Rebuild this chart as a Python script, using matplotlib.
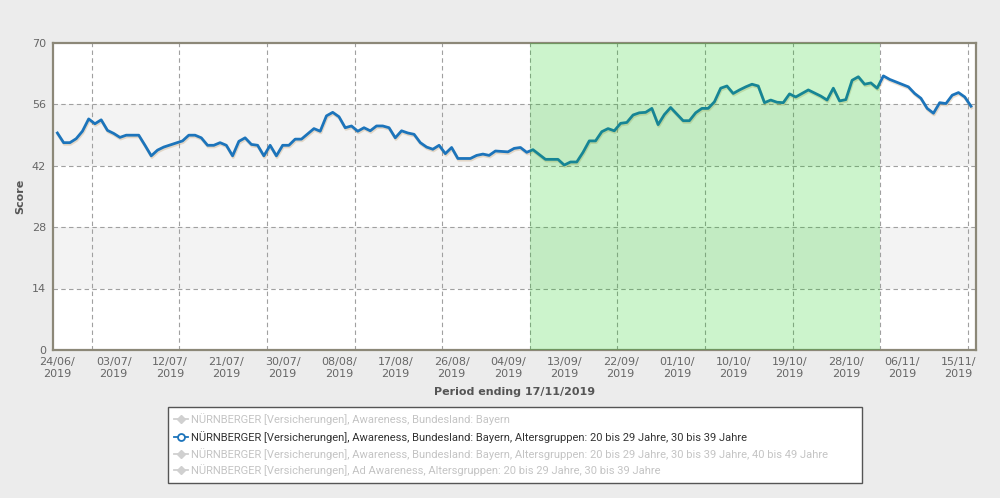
import pandas as pd
import matplotlib
matplotlib.use('Agg')
import matplotlib.pyplot as plt
import matplotlib.patheffects as pe
from matplotlib.patches import Rectangle
from matplotlib.lines import Line2D

# Score readings (day offset from 24/06/2019, value)
days = [0, 1, 2, 3, 4, 5, 6, 7, 8, 9, 10, 11, 13, 14, 15, 16, 17, 20, 21, 22,
        23, 24, 25, 26, 27, 28, 29, 30, 31, 32, 33, 34, 35, 36, 37, 38, 39, 41,
        42, 43, 44, 45, 46, 47, 48, 49, 50, 51, 52, 53, 54, 55, 56, 57, 58, 59,
        60, 61, 62, 63, 64, 66, 67, 68, 69, 70, 72, 73, 74, 75, 76, 77, 78, 80,
        81, 82, 83, 84, 85, 86, 87, 88, 89, 90, 91, 92, 93, 94, 95, 96, 97, 98,
        100, 101, 102, 103, 104, 105, 106, 107, 108, 109, 110, 111, 112, 113,
        114, 115, 116, 117, 118, 120, 122, 123, 124, 125, 126, 127, 128, 129,
        130, 131, 132, 133, 136, 137, 138, 139, 140, 141, 142, 143, 144, 145, 146]
score = [49.4, 47.2, 47.2, 48.1, 49.8, 52.6, 51.5, 52.4, 50.0, 49.3, 48.4, 48.9,
         48.9, 46.6, 44.2, 45.5, 46.2, 47.6, 48.9, 48.9, 48.3, 46.6, 46.6, 47.2,
         46.6, 44.2, 47.5, 48.3, 46.8, 46.6, 44.2, 46.6, 44.2, 46.6, 46.6, 48.0,
         48.0, 50.4, 49.8, 53.3, 54.1, 53.1, 50.6, 51.0, 49.8, 50.6, 49.9, 51.0,
         51.0, 50.6, 48.3, 49.9, 49.4, 49.1, 47.2, 46.2, 45.7, 46.6, 44.7, 46.1,
         43.6, 43.6, 44.3, 44.6, 44.3, 45.3, 45.1, 45.9, 46.1, 45.0, 45.6, 44.5,
         43.4, 43.4, 42.1, 42.8, 42.8, 45.0, 47.6, 47.6, 49.7, 50.4, 49.9, 51.6,
         51.8, 53.5, 54.0, 54.1, 55.0, 51.3, 53.6, 55.2, 52.2, 52.2, 54.0, 55.0,
         55.0, 56.5, 59.6, 60.1, 58.4, 59.2, 59.9, 60.5, 60.1, 56.3, 56.9, 56.4,
         56.3, 58.3, 57.6, 59.2, 57.8, 56.9, 59.6, 56.7, 57.0, 61.4, 62.2, 60.5,
         60.8, 59.6, 62.4, 61.6, 59.9, 58.4, 57.3, 55.0, 53.9, 56.3, 56.1, 58.0,
         58.6, 57.6, 55.5]

start = pd.Timestamp('2019-06-24')
y_ticks = [0, 14, 28, 42, 56, 70]
highlight_days = (75.5, 131.5)

legend_labels = [
    'NÜRNBERGER [Versicherungen], Awareness, Bundesland: Bayern',
    'NÜRNBERGER [Versicherungen], Awareness, Bundesland: Bayern, Altersgruppen: 20 bis 29 Jahre, 30 bis 39 Jahre',
    'NÜRNBERGER [Versicherungen], Awareness, Bundesland: Bayern, Altersgruppen: 20 bis 29 Jahre, 30 bis 39 Jahre, 40 bis 49 Jahre',
    'NÜRNBERGER [Versicherungen], Ad Awareness, Altersgruppen: 20 bis 29 Jahre, 30 bis 39 Jahre',
]
legend_active = [False, True, False, False]

dates = start + pd.to_timedelta(days, unit='D')

W, H = 1000, 498
fig = plt.figure(figsize=(W / 100, H / 100), dpi=100, facecolor='#ececec')
ax = fig.add_axes([53 / W, 1 - 350 / H, (976 - 53) / W, (350 - 42.5) / H])
ax.set_facecolor('white')

# alternating bands
ax.axhspan(42, 56, color='#f3f3f3', zorder=0, lw=0)
ax.axhspan(14, 28, color='#f3f3f3', zorder=0, lw=0)

# grid
for v in y_ticks[1:-1]:
    ax.axhline(v, color='#a0a0a0', lw=0.8, ls=(0, (4, 3)), zorder=1)
for k in range(11):
    ax.axvline(start + pd.Timedelta(days=5.5 + 14 * k), color='#a0a0a0', lw=0.8,
               ls=(0, (4, 3)), zorder=1)

ax.plot(dates, score, color='#1c74bb', lw=2.0, zorder=2, solid_joinstyle='round',
        path_effects=[pe.SimpleLineShadow(offset=(0.5, -1.2), shadow_color='#b08040', alpha=0.25),
                      pe.Normal()])

ax.axvspan(start + pd.Timedelta(days=highlight_days[0]), start + pd.Timedelta(days=highlight_days[1]),
           color=(0.0, 0.8, 0.0), alpha=0.2, lw=0, zorder=3)

ax.set_ylim(0, 70)
ax.set_xlim(start - pd.Timedelta(days=0.7), start + pd.Timedelta(days=146.8))
ax.set_yticks(y_ticks)
xt = [start + pd.Timedelta(days=9 * k) for k in range(17)]
ax.set_xticks(xt)
ax.set_xticklabels([d.strftime('%d/%m/\n%Y') for d in xt])
ax.tick_params(axis='both', length=0, labelsize=8, labelcolor='#666666')
ax.tick_params(axis='x', pad=5)
ax.tick_params(axis='y', pad=5)

for s in ax.spines.values():
    s.set_color('#8c8878')
    s.set_linewidth(1.6)

ax.set_ylabel('Score', fontsize=8, fontweight='bold', color='#555555', labelpad=5)
ax.set_xlabel('Period ending 17/11/2019', fontsize=8, fontweight='bold', color='#555555', labelpad=6)

# legend box
fig.patches.append(Rectangle((168 / W, 1 - 483 / H), (862 - 168) / W, (483 - 407) / H,
                             transform=fig.transFigure, facecolor='white', edgecolor='#555555', lw=1))
rows = [419, 437, 454, 470]
for lbl, active, ypx in zip(legend_labels, legend_active, rows):
    yf = 1 - ypx / H
    if active:
        fig.lines.append(Line2D([174 / W, 188 / W], [yf, yf], transform=fig.transFigure,
                                color='#1c74bb', lw=1.3))
        fig.lines.append(Line2D([181 / W], [yf], transform=fig.transFigure, marker='o',
                                markersize=5, markerfacecolor='white', markeredgecolor='#1c74bb',
                                markeredgewidth=1.3, lw=0))
        col = '#333333'
    else:
        fig.lines.append(Line2D([174 / W, 188 / W], [yf, yf], transform=fig.transFigure,
                                color='#d0d0d0', lw=1.3))
        fig.lines.append(Line2D([181 / W], [yf], transform=fig.transFigure, marker='D',
                                markersize=4.5, color='#d0d0d0', lw=0))
        col = '#c4c4c4'
    fig.text(191 / W, yf, lbl, fontsize=8, color=col, va='center', ha='left',
             family=['Roboto', 'DejaVu Sans'])

fig.savefig('out.png', dpi=100, facecolor=fig.get_facecolor())
